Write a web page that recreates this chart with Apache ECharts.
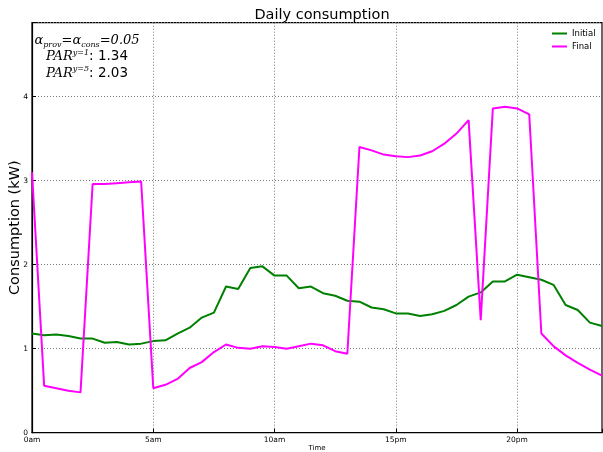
<!DOCTYPE html>
<html>
<head>
<meta charset="utf-8">
<script src="https://cdn.jsdelivr.net/npm/echarts@6/dist/echarts.min.js"></script>
<style>html,body{margin:0;padding:0;background:#fff;}#c{width:603px;height:452px;}</style>
</head>
<body>
<div id="c"></div>
<script>
// half-hour slots over the day
const slotHours = 0.5;
const tickLabels = ['0am', '5am', '10am', '15pm', '20pm'];
const initial = [1.18,1.16,1.17,1.15,1.12,1.12,1.07,1.08,1.05,1.06,1.09,1.10,
                 1.18,1.25,1.37,1.43,1.74,1.71,1.96,1.98,1.87,1.87,1.72,1.74,
                 1.66,1.63,1.57,1.56,1.49,1.47,1.42,1.42,1.39,1.41,1.45,1.52,
                 1.62,1.67,1.80,1.80,1.88,1.85,1.82,1.76,1.52,1.46,1.31,1.27];
const final_ = [3.10,0.56,0.53,0.50,0.48,2.96,2.96,2.97,2.98,2.99,0.53,0.57,
                0.64,0.77,0.84,0.96,1.05,1.01,1.00,1.03,1.02,1.00,1.03,1.06,
                1.04,0.97,0.94,3.40,3.36,3.31,3.29,3.28,3.30,3.35,3.44,3.56,
                3.72,1.34,3.86,3.88,3.86,3.79,1.18,1.03,0.92,0.83,0.75,0.68];
const seriesNames = ['Initial', 'Final'];

const toPairs = arr => arr.map((v, i) => [i * slotHours, v]);
const chart = echarts.init(document.getElementById('c'), null, {renderer: 'canvas'});
const F = 'DejaVu Sans';
const M = 'DejaVu Serif';
const gridLine = {show: true, lineStyle: {color: '#777', type: [1, 2], width: 1}};
chart.setOption({
  animation: false,
  backgroundColor: '#fff',
  title: {
    text: 'Daily consumption', left: 317, top: 3, textAlign: 'center',
    textStyle: {fontFamily: F, fontSize: 14.5, fontWeight: 'normal', color: '#000'}
  },
  grid: {left: 32, right: 1, top: 22.7, bottom: 19.3, outerBoundsMode: 'none', containLabel: false,
         show: true, borderColor: '#000', borderWidth: 1.2, backgroundColor: 'transparent'},
  legend: {
    data: seriesNames, orient: 'vertical', left: 552, top: 29, itemGap: 4, padding: 0,
    icon: 'rect', itemWidth: 15, itemHeight: 2,
    textStyle: {fontFamily: F, fontSize: 8.5, color: '#000'}
  },
  xAxis: {
    type: 'value', min: 0, max: 23.5, interval: 5,
    name: 'Time', nameLocation: 'middle', nameGap: 12, nameMoveOverlap: false,
    nameTextStyle: {fontFamily: F, fontSize: 7, color: '#000'},
    axisLine: {show: true, lineStyle: {color: '#000', width: 1.2}},
    axisTick: {show: true, inside: true, length: 4, lineStyle: {color: '#000'}},
    axisLabel: {fontFamily: F, fontSize: 7.5, color: '#000', margin: 3,
      formatter: v => { const k = Math.round(v / 5); return (Math.abs(v - k * 5) < 1e-6 && tickLabels[k]) ? tickLabels[k] : ''; }},
    splitLine: gridLine
  },
  yAxis: {
    type: 'value', min: 0, max: 4.88, interval: 1,
    name: 'Consumption (kW)', nameLocation: 'middle', nameGap: 9, nameRotate: 90, nameMoveOverlap: false,
    nameTextStyle: {fontFamily: F, fontSize: 14.5, color: '#000'},
    axisLine: {show: true, lineStyle: {color: '#000', width: 1.2}},
    axisTick: {show: true, inside: true, length: 4, lineStyle: {color: '#000'}},
    axisLabel: {fontFamily: F, fontSize: 7.5, color: '#000', margin: 4,
      formatter: v => (Math.abs(v - Math.round(v)) < 1e-6 ? String(Math.round(v)) : '')},
    splitLine: gridLine
  },
  graphic: [{
    type: 'text', x: 87, y: 32,
    style: {
      text: '{m|α}{s|prov}{m|=α}{s|cons}{m|=0.05}\n{m|PAR}{p|y=1}{t|: 1.34}\n{m|PAR}{p|y=5}{t|: 2.03}',
      align: 'center', verticalAlign: 'top',
      rich: {
        m: {fontFamily: M, fontStyle: 'italic', fontSize: 13, color: '#222', lineHeight: 16.5},
        s: {fontFamily: M, fontStyle: 'italic', fontSize: 8, color: '#222', verticalAlign: 'bottom', lineHeight: 16.5},
        p: {fontFamily: M, fontStyle: 'italic', fontSize: 8, color: '#222', verticalAlign: 'top', lineHeight: 16.5},
        t: {fontFamily: F, fontSize: 13.5, color: '#000', lineHeight: 16.5}
      }
    }
  }],
  series: [
    {name: seriesNames[0], type: 'line', data: toPairs(initial), symbol: 'none',
     lineStyle: {color: '#008000', width: 2}, itemStyle: {color: '#008000'}},
    {name: seriesNames[1], type: 'line', data: toPairs(final_), symbol: 'none',
     lineStyle: {color: '#ff00ff', width: 2}, itemStyle: {color: '#ff00ff'}}
  ]
});
</script>
</body>
</html>
